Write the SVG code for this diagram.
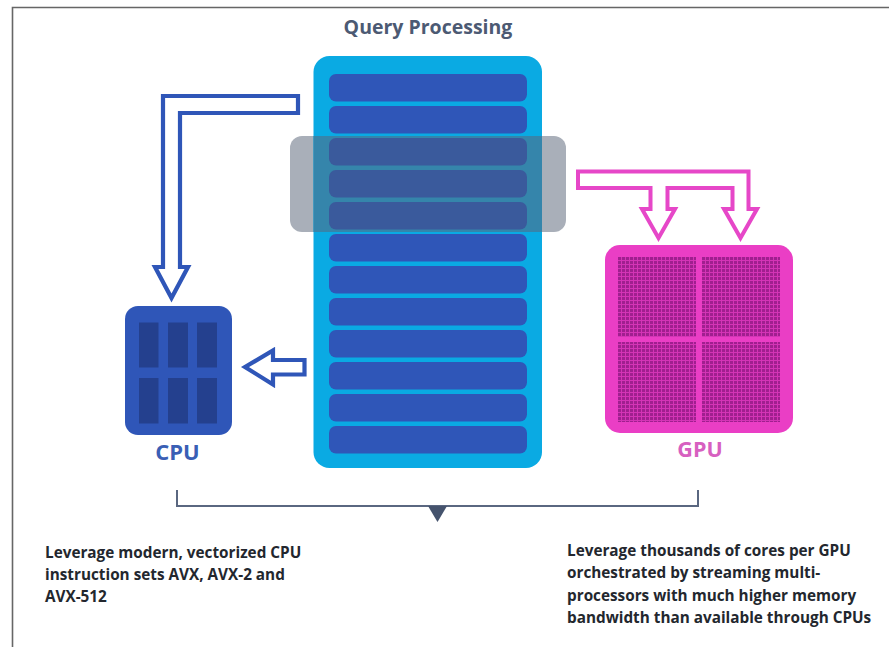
<svg xmlns="http://www.w3.org/2000/svg" width="889" height="647" viewBox="0 0 889 647">
<style>
text{font-family:"Open Sans","Liberation Sans",sans-serif;font-weight:700}
.bar{fill:#2f56b8}
.dim{fill:#3a5a9c}
.cell{fill:#24408e}
.note{font-size:15.3px;fill:#23272e}
.blue{fill:none;stroke:#2f56b8;stroke-width:4.2;stroke-linejoin:miter}
.pink{fill:none;stroke:#e647c8;stroke-width:4;stroke-linejoin:miter}
</style>
<defs>
<pattern id="dots" x="618" y="257" width="4" height="4" patternUnits="userSpaceOnUse">
<rect width="4" height="4" fill="#d434b6"/>
<rect width="3" height="3" fill="#a01f8f"/>
</pattern>
</defs>
<rect width="889" height="647" fill="#ffffff"/>
<path id="frame" d="M12.5 647V7.5H889" fill="none" stroke="#666666" stroke-width="1.6"/>
<text id="title" x="428" y="34" text-anchor="middle" font-size="19.5" fill="#4c5a73">Query Processing</text>
<g id="query-processing">
<rect x="290" y="136" width="276" height="96" rx="12" fill="#a9afb9"/>
<rect x="313.5" y="56" width="228.5" height="412" rx="16" fill="#0aaae3"/>
<rect x="313.5" y="136" width="228.5" height="96" fill="#3585ab"/>
<rect class="bar" x="329" y="74" width="198" height="27.5" rx="7"/>
<rect class="bar" x="329" y="106" width="198" height="27.5" rx="7"/>
<rect class="dim" x="329" y="138" width="198" height="27.5" rx="7"/>
<rect class="dim" x="329" y="170" width="198" height="27.5" rx="7"/>
<rect class="dim" x="329" y="202" width="198" height="27.5" rx="7"/>
<rect class="bar" x="329" y="234" width="198" height="27.5" rx="7"/>
<rect class="bar" x="329" y="266" width="198" height="27.5" rx="7"/>
<rect class="bar" x="329" y="298" width="198" height="27.5" rx="7"/>
<rect class="bar" x="329" y="330" width="198" height="27.5" rx="7"/>
<rect class="bar" x="329" y="362" width="198" height="27.5" rx="7"/>
<rect class="bar" x="329" y="394" width="198" height="27.5" rx="7"/>
<rect class="bar" x="329" y="426" width="198" height="27.5" rx="7"/>
</g>
<g id="cpu">
<rect x="125" y="306" width="107" height="129" rx="13" fill="#2f56b8"/>
<rect class="cell" x="139" y="322.5" width="19.5" height="45"/>
<rect class="cell" x="168" y="322.5" width="20" height="45"/>
<rect class="cell" x="197" y="322.5" width="20" height="45"/>
<rect class="cell" x="139" y="378" width="19.5" height="45.5"/>
<rect class="cell" x="168" y="378" width="20" height="45.5"/>
<rect class="cell" x="197" y="378" width="20" height="45.5"/>
<text x="177.5" y="459.5" text-anchor="middle" font-size="22" fill="#3a5fb5">CPU</text>
</g>
<g id="gpu">
<rect x="605" y="245" width="188" height="188" rx="15" fill="#ea3ec5"/>
<rect x="618" y="257" width="78" height="80" fill="url(#dots)"/>
<rect x="702" y="257" width="78" height="80" fill="url(#dots)"/>
<rect x="618" y="342" width="78" height="80" fill="url(#dots)"/>
<rect x="702" y="342" width="78" height="80" fill="url(#dots)"/>
<text x="700" y="457" text-anchor="middle" font-size="21.5" fill="#d760c0">GPU</text>
</g>
<g id="connectors">
<path class="blue" d="M298 96H163V267H155L171.5 298L188 267H180V113H298Z"/>
<path class="blue" d="M304.5 360H273V350.5L245 367L273 384.5V374.5H304.5Z"/>
<path class="pink" d="M578 171.5H748.5V209H757L740.5 238L724 209H732.5V188H667.5V209H675L658.5 238L642 209H650.5V188H578Z"/>
<path d="M177 490V506H698V490" fill="none" stroke="#5a6780" stroke-width="2"/>
<path d="M428 506H447L437.5 522Z" fill="#45536d"/>
</g>
<g id="note-cpu">
<text class="note" x="45" y="558">Leverage modern, vectorized CPU</text>
<text class="note" x="45" y="580">instruction sets AVX, AVX-2 and</text>
<text class="note" x="45" y="602">AVX-512</text>
</g>
<g id="note-gpu">
<text class="note" x="567" y="556">Leverage thousands of cores per GPU</text>
<text class="note" x="567" y="578">orchestrated by streaming multi-</text>
<text class="note" x="567" y="601">processors with much higher memory</text>
<text class="note" x="567" y="623">bandwidth than available through CPUs</text>
</g>
</svg>
